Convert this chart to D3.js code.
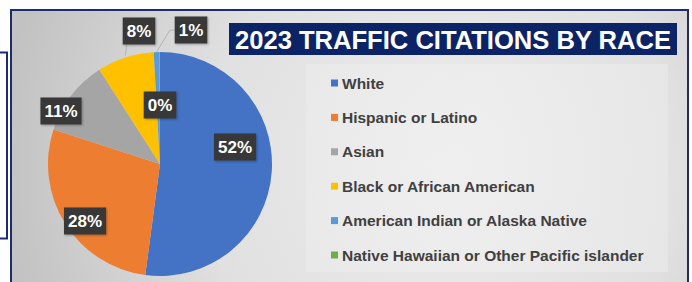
<!DOCTYPE html>
<html>
<head>
<meta charset="utf-8">
<script src="https://cdn.jsdelivr.net/npm/d3@7/dist/d3.min.js"></script>
<style>
  html, body { margin: 0; padding: 0; background: #ffffff; }
  svg { display: block; }
</style>
</head>
<body>
<svg id="chart" width="692" height="282"></svg>
<script>
// ---- data ----
const categories = [
  "White",
  "Hispanic or Latino",
  "Asian",
  "Black or African American",
  "American Indian or Alaska Native",
  "Native Hawaiian or Other Pacific islander"
];
const values = [52.1, 27.9, 10.9, 8.2, 0.8, 0.1];
const labels = ["52%", "28%", "11%", "8%", "1%", "0%"];
const colors = ["#4472C4", "#ED7D31", "#A5A5A5", "#FFC000", "#5B9BD5", "#70AD47"];
const title = "2023 TRAFFIC CITATIONS BY RACE";

// ---- layout ----
const W = 692, H = 282;
const cx = 160, cy = 164, R = 112;
// label offsets from pie centre (Excel-style manual label placement)
const labelOffsets = [[75, -17], [-75, 57], [-99, -53], [-21, -133], [31, -134], [0, -59]];

const svg = d3.select("#chart");
const defs = svg.append("defs");

const grad = defs.append("radialGradient")
  .attr("id", "bg").attr("gradientUnits", "userSpaceOnUse")
  .attr("cx", 440).attr("cy", 165).attr("r", 440);
grad.append("stop").attr("offset", "0%").attr("stop-color", "#ededed");
grad.append("stop").attr("offset", "55%").attr("stop-color", "#e0e0e0");
grad.append("stop").attr("offset", "100%").attr("stop-color", "#c2c2c2");

const lg = defs.append("linearGradient").attr("id", "legbg")
  .attr("x1", 0).attr("x2", 1).attr("y1", 0).attr("y2", 0);
lg.append("stop").attr("offset", "0%").attr("stop-color", "#eeeeee");
lg.append("stop").attr("offset", "50%").attr("stop-color", "#f2f2f2");
lg.append("stop").attr("offset", "100%").attr("stop-color", "#eeeeee");

const sh = defs.append("filter").attr("id", "shadow")
  .attr("x", "-20%").attr("y", "-20%").attr("width", "140%").attr("height", "140%");
sh.append("feDropShadow").attr("dx", 1).attr("dy", 1).attr("stdDeviation", 1.2)
  .attr("flood-color", "#000").attr("flood-opacity", 0.3);

// left bracket behind the panel
svg.append("path")
  .attr("d", "M0,52.5 H7 V238.5 H0")
  .attr("fill", "none").attr("stroke", "#1b2a78").attr("stroke-width", 2);

// panel
svg.append("rect")
  .attr("x", 11).attr("y", 10).attr("width", 677).attr("height", 280)
  .attr("fill", "url(#bg)").attr("stroke", "#1d2d6b").attr("stroke-width", 2);

// legend area (subtle lighter panel)
svg.append("rect")
  .attr("x", 306).attr("y", 64).attr("width", 362).attr("height", 208)
  .attr("fill", "url(#legbg)").attr("opacity", 0.45);

// ---- pie ----
const pie = d3.pie().value(d => d).sort(null);
const arcs = pie(values);
const arc = d3.arc().innerRadius(0).outerRadius(R);

const g = svg.append("g").attr("transform", `translate(${cx},${cy})`);
g.selectAll("path.slice")
  .data(arcs)
  .join("path")
  .attr("class", "slice")
  .attr("d", arc)
  .attr("fill", (d, i) => colors[i]);

// leader lines for small slices (8% and 1%)
const outerPt = d => {
  const a = (d.startAngle + d.endAngle) / 2;
  return [R * Math.sin(a), -R * Math.cos(a)];
};
const p8 = outerPt(arcs[3]);
const p1 = outerPt(arcs[4]);
g.append("path")
  .attr("d", `M${p8[0]},${p8[1] - 2} L${labelOffsets[3][0] - 12},${labelOffsets[3][1] + 11}`)
  .attr("stroke", "#b5b5b5").attr("stroke-width", 1).attr("fill", "none");
g.append("path")
  .attr("d", `M${p1[0]},${p1[1]} L${labelOffsets[4][0] - 21},${labelOffsets[4][1]} L${labelOffsets[4][0] - 15},${labelOffsets[4][1]}`)
  .attr("stroke", "#b5b5b5").attr("stroke-width", 1).attr("fill", "none");

// data labels
const lab = g.selectAll("g.lab")
  .data(arcs)
  .join("g")
  .attr("class", "lab")
  .attr("transform", (d, i) => `translate(${labelOffsets[i][0]},${labelOffsets[i][1]})`);
lab.append("text")
  .attr("text-anchor", "middle")
  .attr("dy", "0.36em")
  .attr("font-family", "'Liberation Sans', Arial, sans-serif")
  .attr("font-weight", "bold")
  .attr("font-size", 17)
  .attr("fill", "#ffffff")
  .text((d, i) => labels[i])
  .each(function () {
    const b = this.getBBox();
    d3.select(this.parentNode).insert("rect", "text")
      .attr("x", b.x - 4).attr("y", -13.5)
      .attr("width", b.width + 8).attr("height", 27)
      .attr("fill", "#383838")
      .attr("filter", "url(#shadow)");
  });

// ---- title ----
svg.append("rect")
  .attr("x", 229).attr("y", 23).attr("width", 448).attr("height", 32)
  .attr("fill", "#0c2466");
svg.append("text")
  .attr("x", 453).attr("y", 48.5)
  .attr("text-anchor", "middle")
  .attr("font-family", "'Liberation Sans', Arial, sans-serif")
  .attr("font-weight", "bold")
  .attr("font-size", 26)
  .attr("textLength", 436)
  .attr("lengthAdjust", "spacingAndGlyphs")
  .attr("fill", "#ffffff")
  .text(title);

// ---- legend ----
const ly = d3.scalePoint().domain(categories).range([83, 255]);
const leg = svg.append("g").selectAll("g")
  .data(categories)
  .join("g")
  .attr("transform", d => `translate(331,${ly(d)})`);
leg.append("rect")
  .attr("x", 0).attr("y", -3.5).attr("width", 7).attr("height", 7)
  .attr("fill", (d, i) => colors[i]);
leg.append("text")
  .attr("x", 11).attr("dy", "0.36em")
  .attr("font-family", "'Liberation Sans', Arial, sans-serif")
  .attr("font-weight", "bold")
  .attr("font-size", 15.5)
  .attr("fill", "#404040")
  .text(d => d);
</script>
</body>
</html>
